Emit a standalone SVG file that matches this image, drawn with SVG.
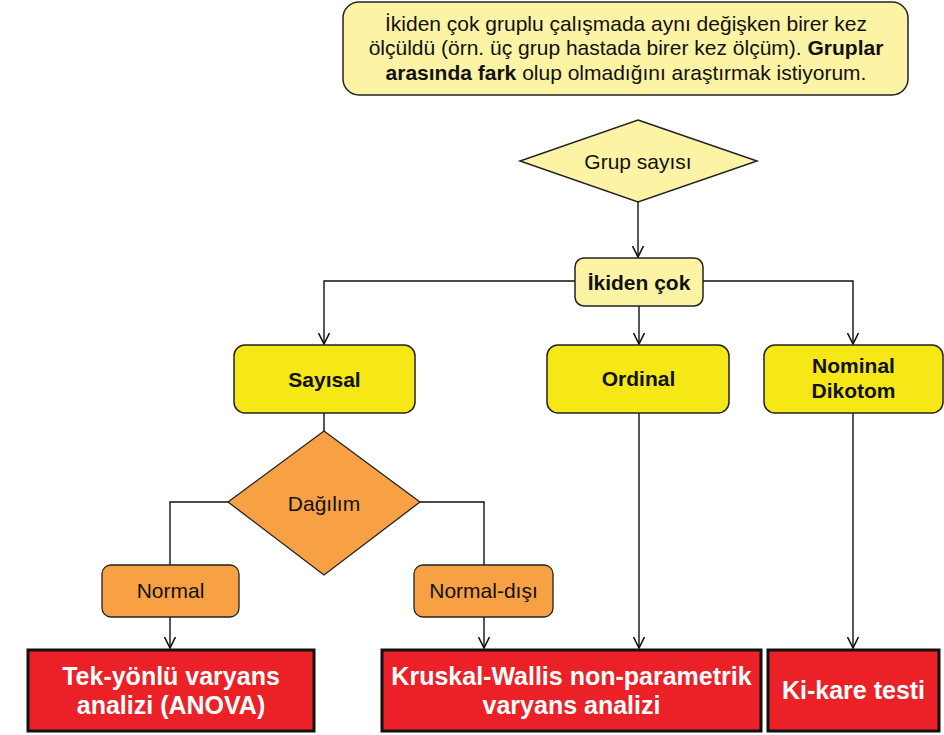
<svg xmlns="http://www.w3.org/2000/svg" width="944" height="735" viewBox="0 0 944 735">
<defs>
<marker id="arr" markerUnits="userSpaceOnUse" markerWidth="14" markerHeight="14" refX="11" refY="6" orient="auto" viewBox="0 0 14 12">
<path d="M0,0.5 L11,6 L0,11.5" fill="none" stroke="#111" stroke-width="1.6"/>
</marker>
<style>
text{font-family:"Liberation Sans",Arial,sans-serif;fill:#111;}
.t{font-size:21px;text-anchor:middle;}
.b{font-weight:bold;}
.r{font-size:25px;font-weight:bold;fill:#fff;text-anchor:middle;}
.ly{fill:#fdf3a4;stroke:#222;stroke-width:1.5;}
.y{fill:#f5e816;stroke:#222;stroke-width:1.5;}
.o{fill:#f7a144;stroke:#222;stroke-width:1.3;}
.red{fill:#ec2128;stroke:#111;stroke-width:3;}
.c{fill:none;stroke:#111;stroke-width:1.4;}
</style>
</defs>
<rect width="944" height="735" fill="#fff"/>

<g id="connectors">
<path class="c" d="M638,202 V257" marker-end="url(#arr)"/>
<path class="c" d="M575,281 H324 V344" marker-end="url(#arr)"/>
<path class="c" d="M639,306 V344" marker-end="url(#arr)"/>
<path class="c" d="M703,281 H853 V344" marker-end="url(#arr)"/>
<path class="c" d="M324,413 V431"/>
<path class="c" d="M228,502 H170 V565"/>
<path class="c" d="M420,502 H484 V565"/>
<path class="c" d="M170,617 V648" marker-end="url(#arr)"/>
<path class="c" d="M484,617 V648" marker-end="url(#arr)"/>
<path class="c" d="M639,413 V648" marker-end="url(#arr)"/>
<path class="c" d="M853,413 V648" marker-end="url(#arr)"/>
</g>

<g id="question">
<rect class="ly" x="343" y="2" width="565" height="93" rx="16"/>
<text class="t" x="626" y="31">İkiden çok gruplu çalışmada aynı değişken birer kez</text>
<text class="t" x="626" y="55">ölçüldü (örn. üç grup hastada birer kez ölçüm). <tspan class="b">Gruplar</tspan></text>
<text class="t" x="626" y="80"><tspan class="b">arasında fark</tspan> olup olmadığını araştırmak istiyorum.</text>
</g>

<g id="grup-sayisi">
<polygon class="ly" points="638,120 757,161 638,202 520,161"/>
<text class="t" x="638" y="169">Grup sayısı</text>
</g>

<g id="ikiden-cok">
<rect class="ly" x="575" y="258" width="128" height="48" rx="9"/>
<text class="t b" x="639" y="290">İkiden çok</text>
</g>

<g id="sayisal">
<rect class="y" x="234" y="345" width="181" height="68" rx="11"/>
<text class="t b" x="324.5" y="387">Sayısal</text>
</g>

<g id="ordinal">
<rect class="y" x="547" y="345" width="182" height="68" rx="11"/>
<text class="t b" x="638.5" y="386">Ordinal</text>
</g>

<g id="nominal">
<rect class="y" x="764" y="345" width="179" height="68" rx="11"/>
<text class="t b" x="853.5" y="373">Nominal</text>
<text class="t b" x="853.5" y="398">Dikotom</text>
</g>

<g id="dagilim">
<polygon class="o" points="324,431 420,502 324,575 228,502"/>
<text class="t" x="324" y="511">Dağılım</text>
</g>

<g id="normal">
<rect class="o" x="102" y="565" width="137" height="52" rx="9"/>
<text class="t" x="170.5" y="598">Normal</text>
</g>

<g id="normal-disi">
<rect class="o" x="414" y="565" width="139" height="52" rx="9"/>
<text class="t" x="483.5" y="598">Normal-dışı</text>
</g>

<g id="anova">
<rect class="red" x="28" y="650" width="286" height="81"/>
<text class="r" x="171" y="685">Tek-yönlü varyans</text>
<text class="r" x="171" y="714">analizi (ANOVA)</text>
</g>

<g id="kruskal">
<rect class="red" x="382" y="650" width="379" height="81"/>
<text class="r" x="571.5" y="685">Kruskal-Wallis non-parametrik</text>
<text class="r" x="571.5" y="714">varyans analizi</text>
</g>

<g id="ki-kare">
<rect class="red" x="768" y="650" width="171" height="81"/>
<text class="r" x="853.5" y="699">Ki-kare testi</text>
</g>
</svg>
